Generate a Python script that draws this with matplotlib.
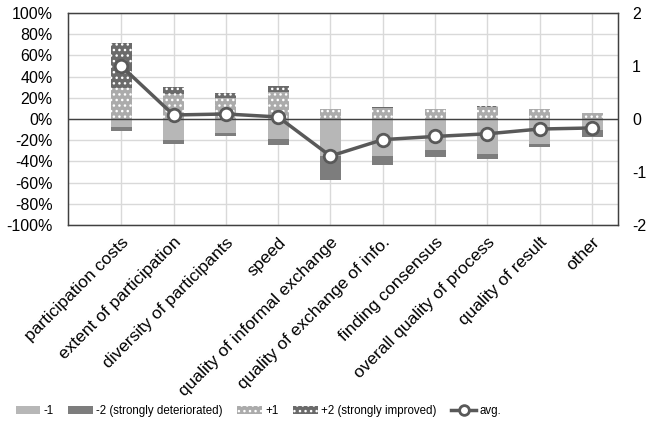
import matplotlib
matplotlib.use('Agg')
import matplotlib.pyplot as plt
from matplotlib import font_manager
from matplotlib.patches import Patch
from matplotlib.lines import Line2D
import numpy as np

plt.rcParams['font.family'] = ['Liberation Sans', 'DejaVu Sans']
plt.rcParams['hatch.color'] = 'white'
plt.rcParams['hatch.linewidth'] = 1.0

categories = ['participation costs', 'extent of participation', 'diversity of participants',
              'speed', 'quality of informal exchange', 'quality of exchange of info.',
              'finding consensus', 'overall quality of process', 'quality of result', 'other']

# shares in percent
minus1 = [7.5, 19.5, 13.5, 18.5, 35.0, 34.6, 29.6, 32.7, 23.6, 10.0]
minus2 = [3.8, 4.0, 2.5, 6.5, 23.0, 8.4, 6.4, 4.7, 2.5, 7.3]
plus1 = [29.0, 24.0, 19.8, 25.8, 9.4, 10.0, 9.4, 11.6, 9.4, 5.7]
plus2 = [43.0, 6.0, 4.7, 5.0, 0.0, 1.0, 0.0, 1.0, 0.0, 0.0]
avg = [1.0, 0.075, 0.094, 0.038, -0.70, -0.39, -0.33, -0.28, -0.19, -0.17]

c_m1 = '#b7b7b7'
c_m2 = '#7d7d7d'
c_p1 = '#ababab'
c_p2 = '#6a6a6a'
c_line = '#595959'

x = np.arange(len(categories))
w = 0.4

fig = plt.figure(figsize=(6.46, 4.26), dpi=100)
ax = fig.add_axes([0.105, 0.472, 0.852, 0.4975])

m1 = -np.array(minus1)
m2 = -np.array(minus2)
ax.bar(x, m1, w, color=c_m1, linewidth=0, zorder=2)
ax.bar(x, m2, w, bottom=m1, color=c_m2, linewidth=0, zorder=2)
ax.bar(x, plus1, w, color=c_p1, hatch='...', linewidth=0, zorder=2)
ax.bar(x, plus2, w, bottom=plus1, color=c_p2, hatch='...', linewidth=0, zorder=2)

ax.set_ylim(-100, 100)
ax.set_xlim(-1.02, 9.5)
ax.set_yticks(np.arange(-100, 101, 20))
ax.set_yticklabels(['%d%%' % v for v in np.arange(-100, 101, 20)], fontsize=11.5)
ax.set_xticks(x)
ax.set_xticklabels(categories, rotation=45, ha='right', rotation_mode='anchor', fontsize=12.5)
ax.tick_params(axis='y', length=0, pad=11)
ax.tick_params(axis='x', length=0, pad=7)
ax.grid(True, color='#d9d9d9', linewidth=1, zorder=0)
ax.set_axisbelow(True)
ax.axhline(0, color='#404040', linewidth=1, zorder=3)
for s in ax.spines.values():
    s.set_color('#404040')
    s.set_linewidth(1)

ax2 = ax.twinx()
ax2.set_ylim(-2, 2)
ax2.set_yticks([-2, -1, 0, 1, 2])
ax2.set_yticklabels(['-2', '-1', '0', '1', '2'], fontsize=11.5)
ax2.tick_params(axis='y', length=0, pad=10)
ax2.plot(x, avg, color=c_line, linewidth=2.5, marker='o', markersize=9,
         markerfacecolor='white', markeredgecolor=c_line, markeredgewidth=2, zorder=5)
for s in ax2.spines.values():
    s.set_color('#404040')

# legend text in the reference is condensed
names = {f.name for f in font_manager.fontManager.ttflist}
if 'Liberation Sans Narrow' in names:
    leg_prop = {'family': 'Liberation Sans Narrow', 'size': 10.5}
else:
    leg_prop = {'family': 'Liberation Sans', 'size': 8.3}

handles = [
    Patch(facecolor=c_m1, linewidth=0),
    Patch(facecolor=c_m2, linewidth=0),
    Patch(facecolor=c_p1, hatch='...', linewidth=0),
    Patch(facecolor=c_p2, hatch='...', linewidth=0),
    Line2D([], [], color=c_line, linewidth=2.5, marker='o', markersize=7,
           markerfacecolor='white', markeredgecolor=c_line, markeredgewidth=2),
]
labels = ['-1', '-2 (strongly deteriorated)', '+1', '+2 (strongly improved)', 'avg.']
fig.legend(handles, labels, loc='center left', bbox_to_anchor=(0.008, 0.035), ncol=5,
           frameon=False, prop=leg_prop,
           handlelength=2.1, handleheight=0.6, columnspacing=1.3, handletextpad=0.3)

fig.savefig('out.png', dpi=100)
